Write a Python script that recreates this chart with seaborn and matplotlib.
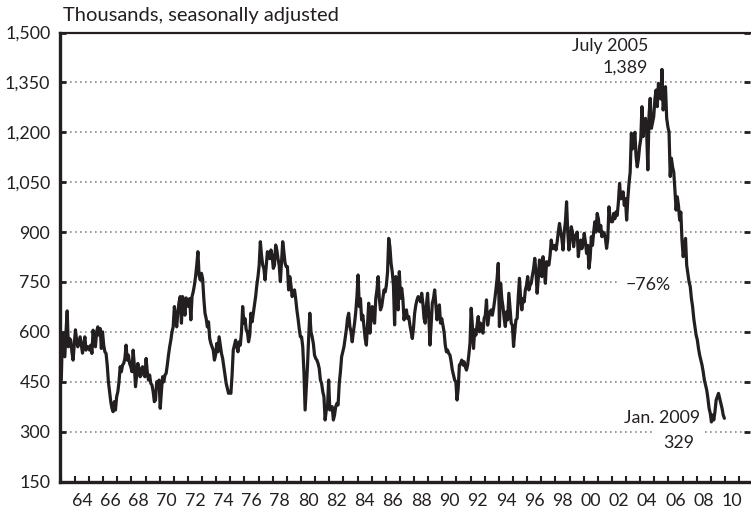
import numpy as np
import pandas as pd
import matplotlib
matplotlib.use("Agg")
import matplotlib.pyplot as plt
import seaborn as sns
from matplotlib.ticker import FixedLocator, FuncFormatter

# ---- data: new one-family homes sold, thousands, SA, monthly from Jan 1963 ----
start_year = 1963
sales_1960s = [
    455, 596, 560, 525, 600, 663, 555, 580, 575, 540, 515, 560,   # 1963
    606, 575, 555, 570, 585, 560, 536, 560, 585, 545, 555, 555,   # 1964
    545, 560, 535, 605, 570, 555, 600, 615, 590, 610, 550, 600,   # 1965
    560, 540, 535, 500, 450, 420, 390, 370, 360, 390, 365, 405,   # 1966
    420, 450, 495, 480, 500, 505, 520, 560, 515, 530, 505, 495,   # 1967
    480, 545, 500, 435, 470, 505, 480, 465, 490, 495, 470, 465,   # 1968
    520, 480, 455, 470, 445, 440, 420, 390, 395, 450, 440, 455,   # 1969
]
sales_1970s = [
    370, 420, 465, 450, 470, 475, 500, 530, 555, 575, 600, 615,
    676, 640, 615, 660, 690, 706, 626, 706, 680, 650, 702, 690,
    676, 700, 636, 706, 720, 740, 766, 800, 841, 770, 756, 776,
    760, 700, 656, 640, 615, 630, 580, 565, 555, 545, 515, 530,
    565, 540, 585, 560, 535, 520, 495, 470, 445, 430, 415, 420,
    415, 470, 545, 560, 575, 555, 540, 570, 560, 600, 676, 626,
    640, 606, 600, 570, 590, 656, 630, 656, 680, 706, 740, 766,
    800, 871, 830, 801, 790, 756, 800, 841, 826, 820, 846, 830,
    791, 800, 861, 846, 820, 800, 751, 810, 871, 840, 806, 796,
    796, 726, 766, 740, 706, 720, 726, 700, 666, 640, 610, 585,
]
sales_1980s = [
    585, 555, 480, 365, 430, 495, 580, 656, 600, 585, 565, 530,
    520, 515, 505, 490, 455, 445, 420, 405, 335, 365, 370, 455,
    365, 370, 375, 335, 350, 375, 385, 380, 445, 480, 525, 540,
    555, 580, 606, 640, 656, 616, 600, 570, 600, 626, 660, 706,
    771, 676, 700, 636, 650, 616, 580, 560, 620, 686, 596, 640,
    676, 640, 626, 700, 726, 766, 700, 666, 676, 700, 726, 720,
    740, 780, 881, 856, 806, 780, 740, 621, 766, 690, 666, 781,
    701, 731, 700, 636, 660, 666, 640, 646, 620, 600, 580, 610,
    656, 680, 696, 706, 700, 690, 716, 686, 640, 626, 680, 716,
    650, 560, 620, 686, 700, 726, 680, 636, 660, 681, 626, 640,
]
sales_1990s = [
    620, 600, 560, 540, 545, 535, 530, 510, 485, 470, 455, 450,
    395, 430, 500, 505, 515, 500, 510, 495, 485, 500, 530, 565,
    671, 620, 550, 606, 590, 620, 646, 600, 626, 610, 596, 640,
    650, 696, 620, 646, 660, 666, 650, 670, 696, 726, 760, 806,
    616, 746, 700, 676, 640, 616, 660, 636, 716, 670, 626, 620,
    556, 600, 636, 640, 706, 761, 700, 666, 700, 690, 726, 740,
    766, 726, 740, 746, 770, 790, 821, 780, 716, 760, 816, 780,
    766, 826, 790, 746, 811, 800, 801, 830, 876, 850, 851, 860,
    846, 870, 901, 926, 900, 880, 846, 900, 930, 991, 900, 846,
    880, 916, 900, 856, 890, 886, 900, 826, 860, 876, 850, 866,
]
sales_2000s = [
    896, 870, 836, 860, 791, 820, 886, 860, 900, 931, 900, 956,
    940, 901, 920, 886, 900, 896, 880, 851, 880, 976, 940, 931,
    931, 956, 940, 961, 950, 990, 1046, 1000, 1006, 1021, 980, 1000,
    936, 1000, 1046, 1080, 1197, 1150, 1177, 1200, 1127, 1096, 1120, 1157,
    1180, 1277, 1187, 1220, 1242, 1200, 1087, 1250, 1302, 1212, 1230, 1247,
    1300, 1327, 1277, 1347, 1320, 1300, 1389, 1267, 1300, 1337, 1242, 1217,
    1200, 1067, 1122, 1096, 1080, 1026, 966, 1006, 980, 936, 960, 876,
    826, 850, 881, 800, 776, 750, 736, 700, 676, 640, 616, 590,
    576, 550, 530, 515, 500, 480, 455, 440, 425, 400, 370, 355,
    329, 350, 335, 360, 395, 405, 415, 400, 385, 370, 350, 340,
]

y_ticks = [150, 300, 450, 600, 750, 900, 1050, 1200, 1350, 1500]
x_label_years = list(range(1964, 2011, 2))
title_text = "Thousands, seasonally adjusted"

values = sales_1960s + sales_1970s + sales_1980s + sales_1990s + sales_2000s
t = start_year + (np.arange(len(values)) + 0.5) / 12.0
df = pd.DataFrame({"t": t, "sales": values})

# ---- style ----
sns.set_theme(style="white")
plt.rcParams["font.family"] = ["Lato", "DejaVu Sans"]
ink = "#231f20"
fs = 12.8

fig = plt.figure(figsize=(7.51, 5.14), dpi=100)
ax = fig.add_axes([60 / 751, 1 - 481.5 / 514, 690 / 751, 449 / 514])

for v in y_ticks[1:-1]:
    ax.axhline(v, color="#8a8a8a", lw=1.2, ls=(0, (1, 2)), zorder=0)

sns.lineplot(data=df, x="t", y="sales", ax=ax, color=ink, lw=2.3, zorder=3)

ax.set_xlim(1962.95, 2011.77)
ax.set_ylim(150, 1500)
ax.set_xlabel("")
ax.set_ylabel("")

ax.yaxis.set_major_locator(FixedLocator(y_ticks))
ax.yaxis.set_major_formatter(FuncFormatter(lambda v, p: f"{int(v):,}"))
ax.tick_params(axis="y", which="major", direction="in", length=4, width=2,
               left=True, right=True, color=ink, labelsize=fs, pad=7,
               labelcolor=ink)

ax.xaxis.set_major_locator(FixedLocator([y + 0.5 for y in x_label_years]))
ax.xaxis.set_major_formatter(FuncFormatter(lambda v, p: f"{int(v) % 100:02d}"))
ax.xaxis.set_minor_locator(FixedLocator(list(range(1963, 2012))))
ax.tick_params(axis="x", which="major", length=0, labelsize=fs, pad=8,
               labelcolor=ink)
ax.tick_params(axis="x", which="minor", direction="in", length=4, width=1.5,
               color=ink, bottom=True)

for side in ["left", "bottom"]:
    ax.spines[side].set_color(ink)
    ax.spines[side].set_linewidth(2.4)
ax.spines["top"].set_color(ink)
ax.spines["top"].set_linewidth(1.6)
ax.spines["right"].set_visible(False)

fig.text(63 / 751, 1 - 21 / 514, title_text, fontsize=14.5, color=ink,
         ha="left", va="baseline")

white = dict(facecolor="white", edgecolor="none", pad=2)
ax.text(2004.56, 1458, "July 2005", ha="right", va="center", fontsize=fs, color=ink)
ax.text(2004.56, 1395, "1,389", ha="right", va="center", fontsize=fs, color=ink)
ax.text(2004.56, 742, "\u221276%", ha="center", va="center", fontsize=fs,
        color=ink, bbox=dict(facecolor="white", edgecolor="none", pad=5), zorder=2)
ax.text(2008.24, 341, "Jan. 2009", ha="right", va="center", fontsize=fs,
        color=ink, bbox=white, zorder=2)
ax.text(2006.76, 265, "329", ha="center", va="center", fontsize=fs,
        color=ink, bbox=dict(facecolor="white", edgecolor="none", pad=6), zorder=2)

fig.savefig("out.png", dpi=100)
